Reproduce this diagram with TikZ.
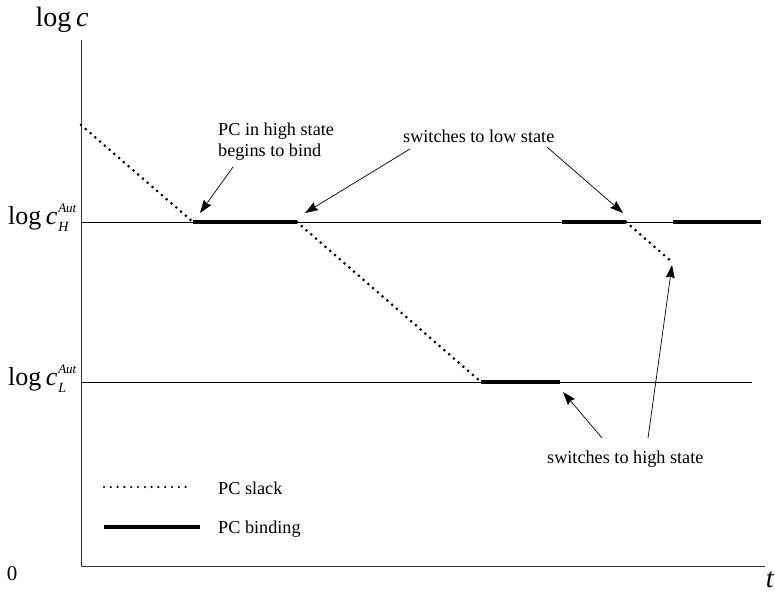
\documentclass[tikz,border=0pt]{standalone}
\usepackage{fontspec}
\setmainfont{Liberation Serif}
\usetikzlibrary{arrows.meta}
\newcommand{\loglab}[1]{{\fontsize{26}{30}\selectfont log\,\textit{c}}\kern1pt\rlap{\raisebox{-7pt}{\fontsize{14}{14}\selectfont\textit{#1}}}\raisebox{12pt}{\fontsize{13}{13}\selectfont\textit{Aut}}}
\begin{document}
\begin{tikzpicture}[x=1pt,y=-1pt,
  axis/.style={line width=0.9pt,color=black!80},
  level/.style={line width=0.9pt},
  slack/.style={line width=3pt,line cap=round,dash pattern=on 0pt off 6.3pt},
  bind/.style={line width=4pt},
  arr/.style={line width=0.7pt,-{Stealth[length=13pt,width=9pt,inset=1.5pt]}},
  txt/.style={inner sep=0pt,font=\fontsize{18.2}{21}\selectfont},
  big/.style={inner sep=0pt,font=\fontsize{28}{32}\selectfont}]
\useasboundingbox (0,0) rectangle (775,593);
% axes
\coordinate (O) at (81,566);
\coordinate (Ytop) at (81,40);
\coordinate (Xend) at (765,566);
\draw[axis] (Ytop) -- (O) -- (Xend);
% levels
\coordinate (H0) at (81,222);
\coordinate (H1) at (761,222);
\coordinate (L0) at (81,382);
\coordinate (L1) at (752,382);
\draw[level] (H0) -- (H1);
\draw[level] (L0) -- (L1);
% path points
\coordinate (P0) at (81,125);
\coordinate (P1) at (193,222);
\coordinate (P2) at (297,222);
\coordinate (P3) at (481,382);
\coordinate (P4) at (560,382);
\coordinate (P5) at (562,222);
\coordinate (P6) at (626,222);
\coordinate (P7) at (672,262);
\coordinate (P8) at (673,222);
\coordinate (P9) at (761,222);
\draw[slack] (P0) -- (P1);
\draw[slack] (P2) -- (P3);
\draw[slack] (P6) -- (P7);
\draw[bind] (P1) -- (P2);
\draw[bind] (P3) -- (P4);
\draw[bind] (P5) -- (P6);
\draw[bind] (P8) -- (P9);
% axis labels
\node[big,anchor=base] (ylab) at (62,27) {log\,\textit{c}};
\node[inner sep=0pt,font=\fontsize{21}{24}\selectfont,anchor=base] (zero) at (12,580) {0};
\node[big,anchor=base] (tlab) at (770,587) {\textit{t}};
\node[inner sep=0pt,anchor=base west] (lH) at (8,225) {\loglab{H}};
\node[inner sep=0pt,anchor=base west] (lL) at (8,385) {\loglab{L}};
% annotations
\node[txt,align=left,anchor=north west] (t1) at (218,123) {PC in high state\\begins to bind};
\node[txt,anchor=base west] (t2) at (403,143) {switches to low state};
\node[txt,anchor=base west] (t3) at (547,463) {switches to high state};
\coordinate (a1s) at (233,167);
\coordinate (a1e) at (200,213);
\coordinate (a2s) at (410,149);
\coordinate (a2e) at (305,213);
\coordinate (a3s) at (547,147);
\coordinate (a3e) at (623,213);
\coordinate (a4s) at (602,438);
\coordinate (a4e) at (563,392);
\coordinate (a5s) at (648,438);
\coordinate (a5e) at (672,265);
\draw[arr] (a1s) -- (a1e);
\draw[arr] (a2s) -- (a2e);
\draw[arr] (a3s) -- (a3e);
\draw[arr] (a4s) -- (a4e);
\draw[arr] (a5s) -- (a5e);
% legend
\coordinate (g1a) at (104,487);
\coordinate (g1b) at (192,487);
\coordinate (g2a) at (104,527);
\coordinate (g2b) at (200,527);
\draw[slack,line width=2.4pt,dash pattern=on 0pt off 6.8pt] (g1a) -- (g1b);
\draw[bind] (g2a) -- (g2b);
\node[txt,anchor=base west] (k1) at (218,494) {PC slack};
\node[txt,anchor=base west] (k2) at (218,533) {PC binding};
\end{tikzpicture}
\end{document}
